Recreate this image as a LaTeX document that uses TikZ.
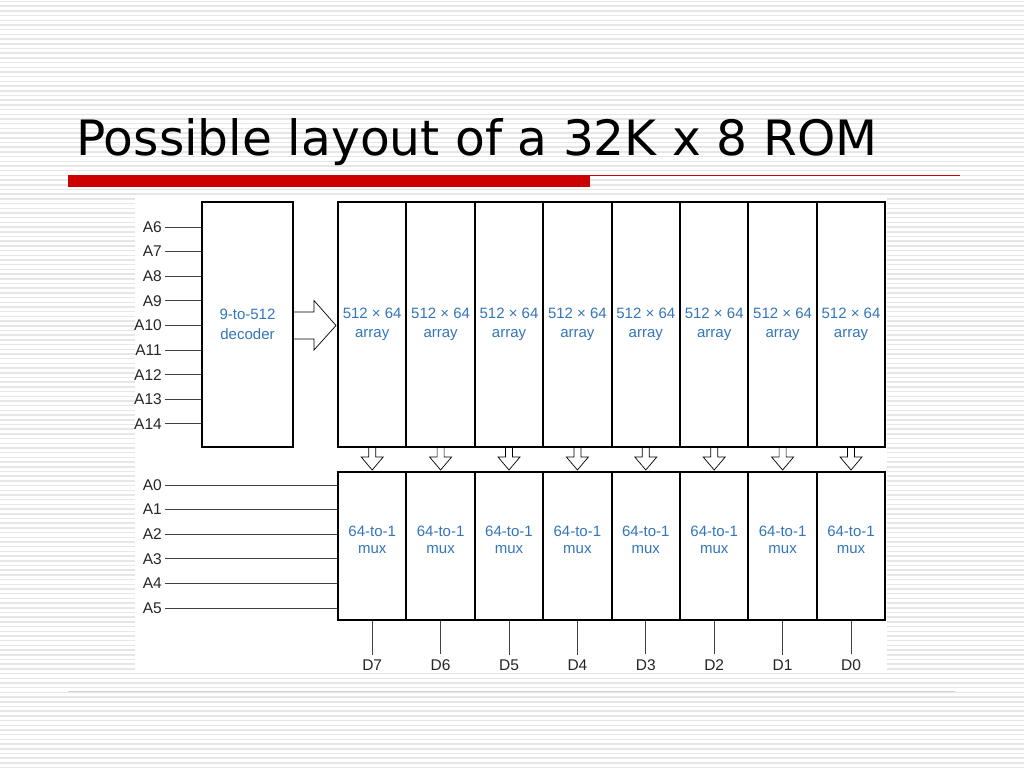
\documentclass[tikz,border=0pt]{standalone}
\usepackage{fontspec}
\setmainfont{Liberation Sans}
\newfontfamily\titlefont{DejaVu Sans}
\usetikzlibrary{positioning}
\definecolor{romBlue}{RGB}{52,118,186}
\definecolor{romRed}{HTML}{CC0000}
\definecolor{stripeGray}{HTML}{E6E6E6}
\definecolor{ruleGray}{HTML}{DCCFCF}

\begin{document}
\begin{tikzpicture}[x=1pt,y=-1pt,
  blk/.style={draw,line width=2pt,minimum width=68.4pt,inner sep=0pt,
              font=\fontsize{15}{19.5}\selectfont,text=romBlue,align=center},
  blktxt/.style={inner sep=0pt,font=\fontsize{15}{17}\selectfont,text=romBlue,align=center},
  lbl/.style={font=\fontsize{15.5}{17}\selectfont,text=black!85,inner sep=3pt},
  wire/.style={line width=0.9pt,black!75},
  hollow/.style={draw,line width=0.7pt,fill=white,line join=miter}
]
  \useasboundingbox (0,0) rectangle (1024,768);
  % slide background
  \fill[white] (0,0) rectangle (1024,768);
  \foreach \y in {1.5,6.2,...,768} \draw[stripeGray,line width=1.5pt] (0,\y) -- (1024,\y);

  % title
  \node[anchor=base west,inner sep=0pt,font=\titlefont\fontsize{48.7}{60}\selectfont] (title)
        at (76,155) {Possible layout of a 32K x 8 ROM};
  \fill[romRed] (68,175) rectangle (590,187);
  \draw[romRed,line width=1pt] (68,175.5) -- (960,175.5);
  \draw[ruleGray,line width=1pt] (68,691) -- (955,691);

  % diagram panel
  \fill[white] (135,197) rectangle (887,673);

  % decoder
  \node[blk,minimum width=91pt,minimum height=245pt] (dec) at (247.5,324.5) {9-to-512\\decoder};
  \foreach \n [count=\k from 0] in {6,...,14}{
    \node[lbl,anchor=east] (a\n) at (165,227+24.6*\k) {A\n};
    \draw[wire] (a\n.east) -- (dec.west |- a\n.east);
  }

  % arrays, muxes and outputs
  \foreach \i [evaluate=\i as \x using 372.2+68.4*\i,
               evaluate=\i as \d using int(7-\i)] in {0,...,7}{
    \node[blk,minimum height=245pt] (arr\i) at (\x,324.5) {512 × 64\\array};
    \node[blk,minimum height=148pt] (mux\i) at (\x,545.5) {};
    \node[blktxt] (muxt\i) at ([yshift=6pt]mux\i.center) {64-to-1\\mux};
    \node[lbl,anchor=base,inner sep=5pt] (d\i) at (\x,670.5) {D\d};
    \draw[wire] (mux\i.south) -- (d\i.north);
    \draw[hollow,shift={(arr\i.south)}] (-3.5,0) -- (-3.5,9) -- (-11,9) -- (0,22)
          -- (11,9) -- (3.5,9) -- (3.5,0);
  }

  % wide arrow decoder -> arrays
  \draw[hollow,shift={(dec.east)}] (0,-12.5) -- (20,-12.5) -- (20,-24) -- (42,1)
        -- (20,25.5) -- (20,14.5) -- (0,14.5);

  % select lines
  \foreach \n [count=\k from 0] in {0,...,5}{
    \node[lbl,anchor=east] (a\n) at (165,485+24.6*\k) {A\n};
    \draw[wire] (a\n.east) -- (mux0.west |- a\n.east);
  }
\end{tikzpicture}
\end{document}
